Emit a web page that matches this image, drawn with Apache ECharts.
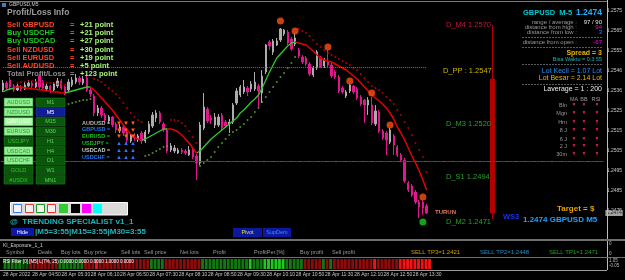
<!DOCTYPE html>
<html><head><meta charset="utf-8">
<script src="https://cdn.jsdelivr.net/npm/echarts@6/dist/echarts.min.js"></script>
<style>html,body{margin:0;padding:0;background:#000;overflow:hidden}#c{width:625px;height:280px}</style>
</head><body><div id="c"></div>
<script>
// ---------- DATA ----------
// M5 candles [open, close, low, high], 28 Apr 2022 from 04:10
const candles = [
[1.25355,1.25390,1.25345,1.25405],[1.25390,1.25365,1.25355,1.25400],[1.25405,1.25370,1.25360,1.25420],[1.25375,1.25355,1.25345,1.25385],
[1.25355,1.25375,1.25350,1.25385],[1.25375,1.25360,1.25350,1.25380],[1.25360,1.25380,1.25355,1.25395],[1.25375,1.25390,1.25370,1.25405],
[1.25390,1.25375,1.25365,1.25400],[1.25370,1.25395,1.25365,1.25410],[1.25425,1.25370,1.25360,1.25435],[1.25395,1.25365,1.25355,1.25405],
[1.25360,1.25375,1.25350,1.25385],[1.25375,1.25355,1.25340,1.25380],[1.25355,1.25385,1.25350,1.25395],[1.25375,1.25400,1.25365,1.25415],
[1.25400,1.25365,1.25355,1.25410],[1.25370,1.25345,1.25330,1.25375],[1.25355,1.25395,1.25345,1.25410],[1.25380,1.25405,1.25370,1.25420],
[1.25395,1.25415,1.25385,1.25435],[1.25415,1.25395,1.25380,1.25425],[1.25390,1.25410,1.25380,1.25425],[1.25415,1.25355,1.25345,1.25425],
[1.25355,1.25335,1.25320,1.25365],[1.25325,1.25240,1.25225,1.25335],[1.25240,1.25265,1.25225,1.25280],[1.25265,1.25230,1.25215,1.25275],
[1.25230,1.25205,1.25190,1.25240],[1.25200,1.25220,1.25185,1.25230],[1.25220,1.25180,1.25170,1.25225],[1.25185,1.25155,1.25140,1.25195],
[1.25150,1.25170,1.25140,1.25185],[1.25170,1.25140,1.25125,1.25175],[1.25145,1.25105,1.25090,1.25155],[1.25100,1.25130,1.25090,1.25140],
[1.25130,1.25115,1.25100,1.25140],[1.25105,1.25125,1.25095,1.25135],[1.25140,1.25100,1.25085,1.25150],[1.25100,1.25145,1.25090,1.25155],
[1.25145,1.25185,1.25135,1.25200],[1.25175,1.25230,1.25165,1.25245],[1.25215,1.25240,1.25195,1.25255],[1.25240,1.25195,1.25185,1.25250],
[1.25185,1.25155,1.25145,1.25195],[1.25155,1.25050,1.25040,1.25165],[1.25055,1.25075,1.25045,1.25090],[1.25050,1.25065,1.25040,1.25080],
[1.25040,1.25055,1.25035,1.25065],[1.25055,1.25045,1.25035,1.25065],[1.25050,1.25040,1.25030,1.25060],[1.25030,1.25055,1.25025,1.25075],
[1.25055,1.25020,1.25010,1.25065],[1.25025,1.24990,1.24905,1.25035],[1.24990,1.25180,1.24980,1.25195],[1.25165,1.25270,1.25155,1.25340],
[1.25260,1.25200,1.25190,1.25270],[1.25215,1.25205,1.25185,1.25230],[1.25180,1.25220,1.25165,1.25240],[1.25180,1.25220,1.25170,1.25235],
[1.25230,1.25165,1.25155,1.25240],[1.25195,1.25175,1.25165,1.25205],[1.25180,1.25195,1.25140,1.25210],[1.25195,1.25280,1.25185,1.25290],
[1.25290,1.25350,1.25280,1.25365],[1.25330,1.25370,1.25320,1.25380],[1.25345,1.25370,1.25335,1.25405],[1.25365,1.25345,1.25325,1.25375],
[1.25360,1.25385,1.25345,1.25400],[1.25360,1.25395,1.25350,1.25445],[1.25375,1.25350,1.25270,1.25385],[1.25340,1.25425,1.25290,1.25455],
[1.25445,1.25580,1.25435,1.25585],[1.25595,1.25575,1.25555,1.25605],[1.25545,1.25600,1.25530,1.25610],[1.25580,1.25600,1.25575,1.25615],
[1.25605,1.25660,1.25595,1.25665],[1.25635,1.25655,1.25625,1.25660],[1.25645,1.25590,1.25580,1.25655],[1.25610,1.25560,1.25550,1.25620],
[1.25585,1.25615,1.25575,1.25640],[1.25555,1.25525,1.25515,1.25565],[1.25520,1.25495,1.25485,1.25530],[1.25515,1.25485,1.25475,1.25525],
[1.25485,1.25435,1.25425,1.25495],[1.25430,1.25465,1.25420,1.25475],[1.25465,1.25545,1.25455,1.25555],[1.25515,1.25470,1.25465,1.25525],
[1.25475,1.25505,1.25465,1.25515],[1.25495,1.25480,1.25470,1.25555],[1.25480,1.25425,1.25415,1.25490],[1.25445,1.25420,1.25410,1.25455],
[1.25420,1.25350,1.25340,1.25430],[1.25365,1.25345,1.25335,1.25375],[1.25325,1.25345,1.25315,1.25355],[1.25350,1.25380,1.25340,1.25385],
[1.25375,1.25345,1.25335,1.25380],[1.25360,1.25315,1.25305,1.25370],[1.25320,1.25285,1.25275,1.25330],[1.25305,1.25280,1.25190,1.25310],
[1.25280,1.25305,1.25230,1.25320],[1.25280,1.25190,1.25180,1.25320],[1.25185,1.25250,1.25175,1.25280],[1.25245,1.25150,1.25140,1.25255],
[1.25150,1.25115,1.25105,1.25160],[1.25140,1.25105,1.25030,1.25150],[1.25095,1.25155,1.25085,1.25165],[1.25125,1.25080,1.25030,1.25135],
[1.25070,1.25030,1.25020,1.25080],[1.25030,1.25005,1.24995,1.25040],[1.25005,1.24900,1.24890,1.25015],[1.24890,1.24855,1.24845,1.24900],
[1.24875,1.24830,1.24820,1.24885],[1.24845,1.24795,1.24785,1.24855],[1.24795,1.24770,1.24715,1.24805],[1.24795,1.24765,1.24730,1.24805],
[1.24775,1.24740,1.24735,1.24785]
];
// daily bar drawn in the right margin [slot, open, close, low, high]
const dailyBar = [134, 1.25410, 1.24740, 1.24710, 1.25680];
// trend line segments [startBar, values]
const maGreenSegs = [
  [0,[1.25345,1.25355,1.25360,1.25365]],
  [17,[1.25340,1.25345,1.25350,1.25355,1.25360,1.25365,1.25370,1.25370]],
  [38,[1.25105,1.25110,1.25120,1.25130,1.25140,1.25150,1.25160,1.25160]],
  [53,[1.25040,1.25050,1.25070,1.25090,1.25110,1.25125,1.25140,1.25155,1.25170,1.25185,1.25200,1.25215,1.25240,1.25255,1.25275,1.25295,1.25310,1.25330,1.25365,1.25405,1.25445,1.25480,1.25515,1.25535,1.25555,1.25575,1.25590,1.25595]]
];
const maRedSegs = [
  [3,[1.25365,1.25370,1.25370,1.25365,1.25365,1.25360,1.25360,1.25355,1.25355,1.25350,1.25350,1.25345,1.25345,1.25340,1.25340]],
  [24,[1.25370,1.25355,1.25335,1.25315,1.25295,1.25275,1.25255,1.25230,1.25205,1.25180,1.25155,1.25135,1.25120,1.25110,1.25105]],
  [45,[1.25160,1.25160,1.25155,1.25145,1.25130,1.25110,1.25090,1.25065,1.25040]],
  [80,[1.25595,1.25590,1.25585,1.25580,1.25565,1.25550,1.25530,1.25515,1.25505,1.25500,1.25495,1.25485,1.25475,1.25465,1.25455,1.25440,1.25425,1.25410,1.25390,1.25370,1.25350,1.25330,1.25315,1.25300,1.25285,1.25265,1.25240,1.25210,1.25170,1.25140,1.25105,1.25065,1.25025,1.24990,1.24950,1.24905,1.24855]]
];
const dotGreenSegs = [
  [18,[1.25285,1.25290,1.25295,1.25300,1.25305,1.25305,1.25310]],
  [39,[1.25025,1.25030,1.25040,1.25050,1.25060,1.25070,1.25075]],
  [54,[1.24975,1.24990,1.25005,1.25020,1.25045,1.25070,1.25090,1.25110,1.25130,1.25145,1.25155,1.25170,1.25185,1.25205,1.25220,1.25245,1.25265,1.25295,1.25320,1.25345,1.25370,1.25395,1.25420,1.25440,1.25465,1.25490,1.25520]]
];
const dotRedSegs = [
  [4,[1.25390,1.25395,1.25395,1.25400,1.25400,1.25395,1.25395,1.25395,1.25390,1.25390,1.25390,1.25385,1.25385,1.25380]],
  [25,[1.25410,1.25405,1.25395,1.25380,1.25365,1.25350,1.25335,1.25315,1.25290,1.25265,1.25240,1.25220,1.25205,1.25195]],
  [46,[1.25205,1.25205,1.25200,1.25190,1.25175,1.25150,1.25120,1.25090]],
  [81,[1.25660,1.25650,1.25640,1.25625,1.25605,1.25585,1.25570,1.25555,1.25540,1.25530,1.25520,1.25510,1.25500,1.25490,1.25480,1.25465,1.25455,1.25435,1.25415,1.25395,1.25375,1.25365,1.25355,1.25340,1.25320,1.25305,1.25285,1.25255,1.25230,1.25195,1.25165,1.25130,1.25090,1.25055,1.25020,1.24945]]
];
const swingHighs = [[76,1.25700],[80,1.25650],[89,1.25570],[95,1.25400],[101,1.25340],[106,1.25180],[115,1.24820]];
const swingLows = [[115,1.24695]];
const levelPP = 1.2547, levelLine = 1.2498, ws3Level = 1.2474, bidPrice = 1.2474;
const priceLabels = ['1.2575','1.2565','1.2555','1.2546','1.2536','1.2525','1.2515','1.2505','1.2495','1.2485','1.2475'];
const timeLabels = ['28 Apr 2022','28 Apr 04:50','28 Apr 05:30','28 Apr 06:10','28 Apr 06:50','28 Apr 07:30','28 Apr 08:10','28 Apr 08:50','28 Apr 09:30','28 Apr 10:10','28 Apr 10:50','28 Apr 11:30','28 Apr 12:10','28 Apr 12:50','28 Apr 13:30'];
// RSI filter strip runs [state, bars]
const rsiRuns = [['g',5],['d',2],['r',8],['g',7],['r',3],['R',1],['r',14],['g',4],['r',10],['g',13],['G',1],['g',3],['G',6],['g',5],['r',5],['g',1],['r',1],['g',1],['r',11],['R',1],['r',6],['R',9]];
const plRows = [['Sell GBPUSD','+21 point'],['Buy USDCHF','+21 point'],['Buy USDCAD','+27 point'],['Sell NZDUSD','+30 point'],['Sell EURUSD','+19 point'],['Sell AUDUSD','+5 point'],['Total Profit/Loss','+123 point']];
const symButtons = ['AUDUSD','NZDUSD','GBPUSD','EURUSD','USDJPY','USDCAD','USDCHF','GOLD','#USDX'];
const symState = [1,1,2,1,0,1,1,0,0];
const tfButtons = ['M1','M5','M15','M30','H1','H4','D1','W1','MN1'];
const signalRows = [['AUDUSD =','#b4b4b4','\u25BC'],['GBPUSD =','#1e78ff','\u25BC'],['EURUSD =','#1ebe1e','\u25BC'],['USDJPY =','#1ebe1e','\u25B2'],['USDCAD =','#d2d2d2','\u25B2'],['USDCHF =','#1e78ff','\u25B2']];
const mtfRows = ['Bln','Mgn','Hrn','8 J','6 J','2 J','30m'];
const exposureCols = [['Symbol',6],['Deals',38],['Buy lots',61],['Buy price',84],['Sell lots',121],['Sell price',144],['Net lots',180],['Profit',213],['ProfitPer.[%]',254],['Buy profit',300],['Sell profit',332]];

// ---------- BUILD ----------
const N = 165;
const cats = Array.from({length:N},(_,i)=>String(i));
const timeCats = cats.map((_,i)=> (i%8===0 && i/8<timeLabels.length) ? timeLabels[i/8] : '');
function sparse(segs){const a=new Array(N).fill('-');segs.forEach(([s,v])=>v.forEach((x,k)=>{a[s+k]=x;}));return a;}
function pts(segs){const a=[];segs.forEach(([s,v])=>v.forEach((x,k)=>a.push([s+k,x])));return a;}
const rsiColors = {g:'#127812',d:'#0b500b',r:'#8c0c0c',R:'#f01414',G:'#20c820'};
const rsiData = [];
rsiRuns.forEach(([c,n])=>{for(let k=0;k<n;k++) rsiData.push({value:1,itemStyle:{color:rsiColors[c]}});});

const F = '"Liberation Sans", Arial, sans-serif';
const G = [];
function txt(x,y,s,fill,size,bold,align){G.push({type:'text',z:100,x:x,y:y,style:{text:s,fill:fill,font:(bold?'bold ':'')+size+'px '+F,textAlign:align||'left',textVerticalAlign:'middle',align:align||'left',verticalAlign:'middle'}});}
function rect(x,y,w,h,fill,stroke,lw){G.push({type:'rect',z:99,shape:{x:x,y:y,width:w,height:h},style:{fill:fill||'none',stroke:stroke||null,lineWidth:lw||1}});}
function line(x1,y1,x2,y2,stroke,lw,dash){G.push({type:'line',z:98,shape:{x1:x1,y1:y1,x2:x2,y2:y2},style:{stroke:stroke,lineWidth:lw||1,lineDash:dash||null}});}

// frame lines
line(0,1.5,607,1.5,'#7a7a7a',1);
line(607.5,0,607.5,270,'#bdbdbd',1);
line(0,240,625,240,'#6e6e6e',2);
line(0,257.5,625,257.5,'#6e6e6e',1);
line(0,270.5,607,270.5,'#9a9a9a',1);
// title
rect(2,3,4,4,'#4a7ab4');
txt(9,5,'GBPUSD,M5','#d0d0d0',5);
// profit/loss block
txt(7,13,'Profit/Loss Info','#9c9c9c',8.5,true);
plRows.forEach((r,k)=>{
  const y=25+k*8.2;
  const c = r[0].startsWith('Sell')?'#ff4628':(r[0].startsWith('Buy')?'#1ec81e':'#8c8c8c');
  txt(7,y,r[0],c,7.5,true); txt(70,y,'=',c,7.5,true); txt(80,y,r[1],'#a4f57a',7.5,true);
});
// symbol / timeframe buttons
symButtons.forEach((s,k)=>{
  const y=98+k*9.7, st=symState[k];
  const bg = st===0?'#0a560a':(st===2?'#a8f8a8':'#90ee90');
  const fg = st===0?'#34c034':(st===2?'#f4fff4':'#2e9a3e');
  rect(4,y,29,8.5,bg,'#1a7a1a',0.6); txt(18.5,y+4.5,s,fg,5.5,false,'center');
  const sel = tfButtons[k]==='M5';
  rect(36,y,29,8.5,sel?'#0f1e96':'#0a560a',sel?'#2a3ab0':'#1a7a1a',0.6);
  txt(50.5,y+4.5,tfButtons[k],sel?'#ffffff':'#64d264',5.5,false,'center');
});
// signal block
signalRows.forEach((r,k)=>{
  const y=123+k*6.85;
  txt(82,y,r[0],r[1],5.5,true);
  const ac = r[2]==='\u25BC'?'#ff6400':'#2878ff';
  [119,126,133].forEach(x=>txt(x,y,r[2],ac,6,false,'center'));
});
// palette box
rect(10.5,202.5,117,12.5,'#dadada','#ffffff',1);
[['#3c78ff',13],['#e03c3c',25],['#1e961e',36],['#ff2828',47]].forEach(([c,x])=>rect(x+0.5,204.5,8,8,'#f2f2f2',c,1));
[['#32cd32',59],['#000000',71],['#ff00ff',82],['#00ffff',93]].forEach(([c,x])=>rect(x,204,9,9,c));
line(105,205.5,113,205.5,'#3c8cff',1.5); line(105,211.5,113,211.5,'#b41e1e',1.5);
line(116,205.5,124,205.5,'#9a5adc',1.5); line(116,211.5,124,211.5,'#ff1e96',1.5);
// bottom controls
txt(10,222,'@  TRENDING SPECIALIST v1_1','#1eb4b4',8,true);
rect(11,228,23,8,'#0c18a0'); txt(22.5,232,'Hide','#ffffff',5.5,false,'center');
txt(35,232,'|M5=3:55|M15=3:55|M30=3:55','#1eb4b4',8,true);
rect(233,228,29,9,'#0c18a0'); txt(247.5,232.5,'Pivot','#e6e61e',5.5,false,'center');
rect(263,228,28,9,'#0c18a0'); txt(277,232.5,'SupDem','#3c8cff',5.5,false,'center');
// level labels
txt(446,25,'D_M4 1.2570','#c8143c',7.5);
txt(443,71,'D_PP : 1.2547','#c8b400',7.5);
txt(446,124,'D_M3 1.2520','#28a028',7.5);
txt(446,177,'D_S1 1.2494','#28a028',7.5);
txt(446,222,'D_M2 1.2471','#28a028',7.5);
txt(435,212,'TURUN','#e0785a',6,true);
txt(503,217,'WS3','#1432ff',7.5,true);
txt(523,220,'1.2474 GBPUSD M5','#1ea0ff',8,true);
txt(557,209,'Target = $','#e6a000',8,true);
// right info panel
txt(523,13,'GBPUSD  M-5','#00c8d0',7.5,true);
txt(602,13,'1.2474','#1ab2ff',8.5,true,'right');
txt(577,22,'range / average :','#9a9a9a',6,false,'right'); txt(602,22,'97 / 90','#e6e6e6',6,false,'right');
txt(577,27,'distance from high :','#9a9a9a',6,false,'right'); txt(602,27,'94','#ff00ff',6,false,'right');
txt(577,32,'distance from low :','#9a9a9a',6,false,'right'); txt(602,32,'3','#1e90ff',6,false,'right');
txt(577,42,'distance from open :','#9a9a9a',6,false,'right'); txt(602,42,'-67','#ff00ff',6,false,'right');
[37.5,47.5,64.5,84.5].forEach(y=>line(522,y,602,y,'#5a5a5a',1,[2,1]));
txt(602,53,'Spread = 3','#e6b400',7,true,'right');
txt(602,59,'Bisa Waktu = 0:3:55','#20b2aa',5.5,false,'right');
txt(602,71,'Lot Kecil = 1.07 Lot','#1e90ff',7,false,'right');
txt(602,78,'Lot Besar = 2.14 Lot','#e6b400',7,false,'right');
txt(602,89,'Laverage = 1 : 200','#f0f0f0',7,false,'right');
txt(574,99,'MA','#9a9a9a',5.5,false,'center'); txt(584,99,'BB','#9a9a9a',5.5,false,'center'); txt(596,99,'RSI','#9a9a9a',5.5,false,'center');
mtfRows.forEach((r,k)=>{const y=[105,113,122,130,139,146,154][k];
  txt(567,y,r,'#9a9a9a',5.5,false,'right');
  [574,584,597].forEach(x=>txt(x,y,'\u25BC','#ff1e50',5,false,'center'));});
// exposure panel
txt(3,246,'KI_Exposure_1_1','#d0d0d0',5);
exposureCols.forEach(([s,x])=>txt(x,252,s,'#9a9a9a',5.5));
txt(411,252,'SELL TP3=1.2421','#c8a000',6);
txt(480,252,'SELL TP2=1.2448','#1e90c8',6);
txt(549,252,'SELL TP1=1.2471','#22a022',6);
txt(609,244,'0','#bdbdbd',4.5); txt(609,254,'0','#bdbdbd',4.5);
txt(609,261,'1.05','#bdbdbd',4.5); txt(609,266,'-0.05','#bdbdbd',4.5);
txt(3,262,'RSI Filter [0] [M5] L(7%, 25) 0.0000 0.0000 0.0000 1.0000 0.0000','#ffffff',4.5);

const chart = echarts.init(document.getElementById('c'));
chart.setOption({
  backgroundColor:'#000', animation:false,
  grid:[{left:1,right:18,top:0,height:251},{left:1,right:18,top:259,height:10}],
  xAxis:[
    {type:'category',gridIndex:0,data:cats,boundaryGap:true,show:false},
    {type:'category',gridIndex:1,data:timeCats,boundaryGap:true,axisLine:{show:false},axisTick:{show:false},
     axisLabel:{interval:0,color:'#c8c8c8',fontSize:5,align:'left',margin:3,fontFamily:F,padding:[0,0,0,-2]}}
  ],
  yAxis:[
    {type:'value',gridIndex:0,position:'right',min:1.2455,max:1.25805,interval:0.001,splitLine:{show:false},axisLine:{show:false},
     axisTick:{show:false},axisLabel:{color:'#c8c8c8',fontSize:5,margin:3,fontFamily:F,showMaxLabel:false,
       formatter:function(v){const k=Math.round((1.2575-v)/0.001);if(k<0||k>=priceLabels.length)return '';if(Math.abs(1.2575-k*0.001-v)>0.00002)return '';return priceLabels[k];}}},
    {type:'value',gridIndex:1,min:0,max:1,show:false}
  ],
  series:[
    {type:'candlestick',data:candles,barMaxWidth:3,
     itemStyle:{color:'#acacac',color0:'#e0168c',borderColor:'#acacac',borderColor0:'#e0168c',borderWidth:1},
     markLine:{symbol:'none',silent:true,animation:false,label:{show:false},
       data:[
         {yAxis:ws3Level,lineStyle:{color:'#2233aa',type:'solid',width:1},label:{show:false}},
         {yAxis:levelLine,lineStyle:{color:'#5a5a18',type:[4,2,1,2],width:1},label:{show:false}},
         [{coord:[0,levelPP],lineStyle:{color:'#a0701e',type:'dotted',width:1},label:{show:false}},{coord:[116,levelPP]}]
       ]}},
    {type:'candlestick',data:[dailyBar],encode:{x:0,y:[1,2,3,4]},barWidth:4,
     itemStyle:{color:'#b00000',color0:'#b00000',borderColor:'#b00000',borderColor0:'#b00000',borderWidth:1}},
    {type:'line',data:sparse(maGreenSegs),symbol:'none',lineStyle:{color:'#2ec82e',width:1.3},z:3},
    {type:'line',data:sparse(maRedSegs),symbol:'none',lineStyle:{color:'#e60000',width:1.5},z:3},
    {type:'scatter',data:pts(dotGreenSegs),symbolSize:2,itemStyle:{color:'#64b428'},z:3},
    {type:'scatter',data:pts(dotRedSegs),symbolSize:2,itemStyle:{color:'#e00000'},z:3},
    {type:'scatter',data:swingHighs,symbolSize:7,itemStyle:{color:'#ff5010'},z:4},
    {type:'scatter',data:swingLows,symbolSize:7,itemStyle:{color:'#1ec81e'},z:4},
    {type:'scatter',data:[[164,bidPrice]],symbol:'rect',symbolSize:[1,1],itemStyle:{color:'rgba(0,0,0,0)'},z:5,
     label:{show:true,position:'right',distance:3,formatter:'1.2474',color:'#000',backgroundColor:'#c8c8c8',fontSize:5,padding:[1,1,0,1],fontFamily:F}},
    {type:'bar',xAxisIndex:1,yAxisIndex:1,data:rsiData,barWidth:'78%'}
  ],
  graphic:{elements:G}
});
</script></body></html>
